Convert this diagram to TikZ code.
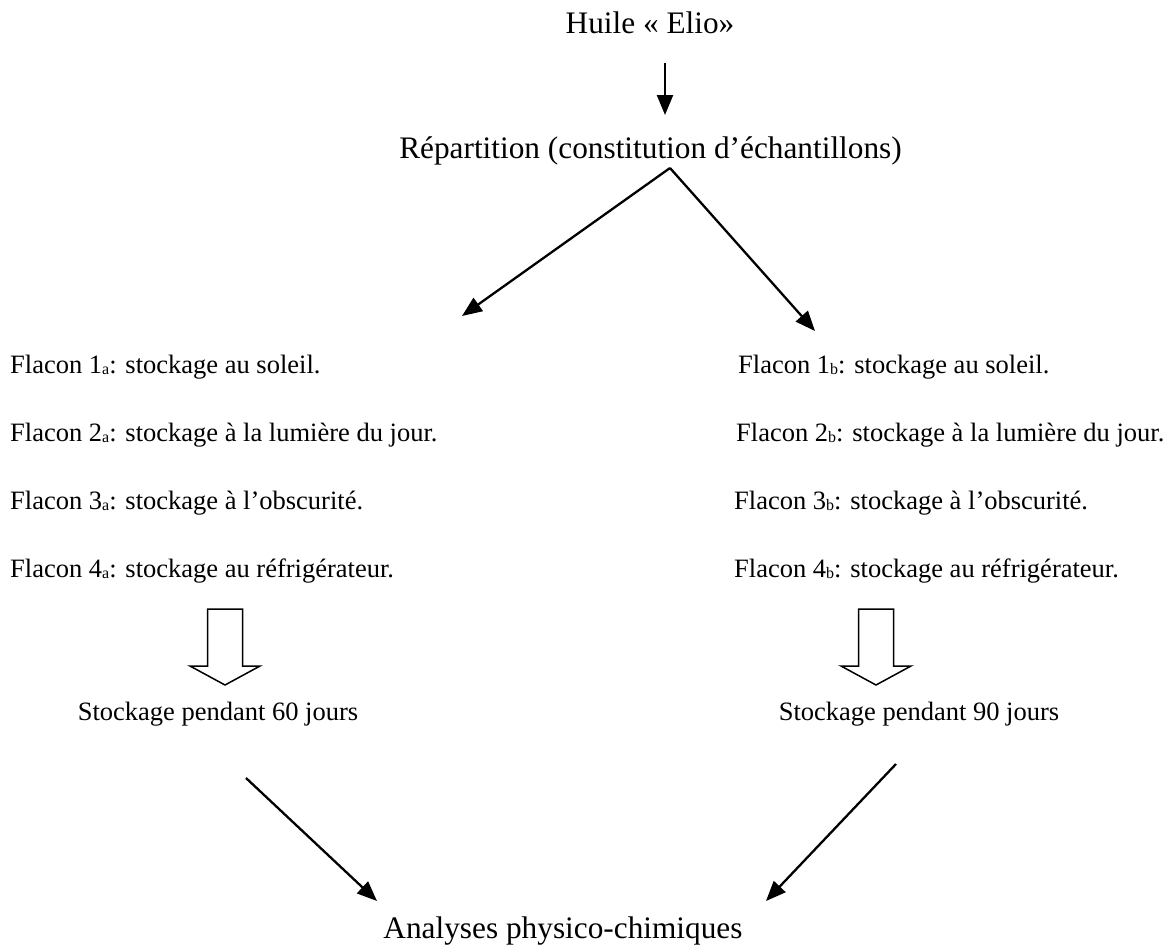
\documentclass[tikz,border=0pt]{standalone}
\usepackage{fontspec}
\setmainfont{Liberation Serif}
\usetikzlibrary{arrows.meta}
\newcommand{\bigtxt}{\fontsize{31.3}{36}\selectfont}
\newcommand{\smalltxt}{\fontsize{26.5}{30}\selectfont}
\newcommand{\subidx}[1]{\raisebox{-1pt}{\fontsize{16}{20}\selectfont #1}}
\begin{document}
\begin{tikzpicture}[x=1pt,y=-1pt,
  bigl/.style={inner sep=0pt,anchor=base,font=\bigtxt},
  row/.style={inner sep=0pt,anchor=base west,font=\smalltxt},
  mid/.style={inner sep=0pt,anchor=base,font=\smalltxt},
  arr/.style={line width=2.3pt,-{Triangle[length=20pt,width=16pt]}},
  hollow/.pic={\draw[line width=1.5pt,line join=miter,fill=white]
     (-17.5,0) -- (17.5,0) -- (17.5,57) -- (35,57) -- (0,76) -- (-35,57) -- (-17.5,57) -- cycle;}]
\useasboundingbox (0,0) rectangle (1171,946);

\node[bigl] (huile) at (650,33) {Huile « Elio»};
\node[bigl] (rep) at (650.5,158) {Répartition (constitution d’échantillons)};

\node[row] (a1) at (10,373) {Flacon 1\subidx{a}: stockage au soleil.};
\node[row] (a2) at (10,441) {Flacon 2\subidx{a}: stockage à la lumière du jour.};
\node[row] (a3) at (10,509) {Flacon 3\subidx{a}: stockage à l’obscurité.};
\node[row] (a4) at (10,577) {Flacon 4\subidx{a}: stockage au réfrigérateur.};

\node[row] (b1) at (738,373) {Flacon 1\subidx{b}: stockage au soleil.};
\node[row] (b2) at (736,441) {Flacon 2\subidx{b}: stockage à la lumière du jour.};
\node[row] (b3) at (734,509) {Flacon 3\subidx{b}: stockage à l’obscurité.};
\node[row] (b4) at (734,577) {Flacon 4\subidx{b}: stockage au réfrigérateur.};

\pic at (225,609) {hollow};
\pic at (876,609) {hollow};

\node[mid] (s60) at (218,720) {Stockage pendant 60 jours};
\node[mid] (s90) at (919,720) {Stockage pendant 90 jours};

\node[bigl] (ana) at (563,938) {Analyses physico-chimiques};

\coordinate (t1) at (665,63);
\coordinate (t2) at (665,115);
\coordinate (apex) at (670,168);
\coordinate (vl) at (462,316);
\coordinate (vr) at (815,331);
\coordinate (dl1) at (246,778);
\coordinate (dl2) at (377,901);
\coordinate (dr1) at (896,764);
\coordinate (dr2) at (766,901);

\draw[arr] (t1) -- (t2);
\draw[arr] (apex) -- (vl);
\draw[arr] (apex) -- (vr);
\draw[arr] (dl1) -- (dl2);
\draw[arr] (dr1) -- (dr2);
\end{tikzpicture}
\end{document}
